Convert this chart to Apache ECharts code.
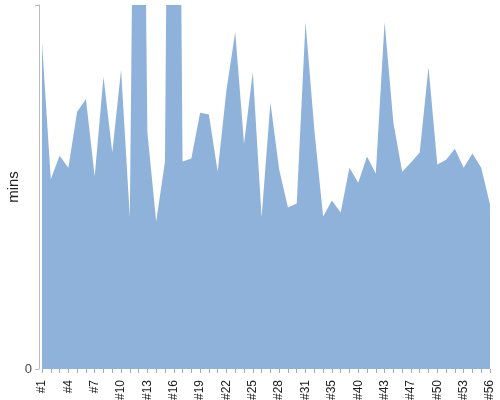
<!DOCTYPE html>
<html>
<head>
<meta charset="utf-8">
<script src="https://cdn.jsdelivr.net/npm/echarts@6/dist/echarts.min.js"></script>
<style>html,body{margin:0;padding:0;background:#fff}#c{width:500px;height:400px}</style>
</head>
<body>
<div id="c"></div>
<script>
var categories = ['#1','#2','#3','#4','#5','#6','#7','#8','#9','#10','#11','#12','#13','#14','#15','#16','#17','#18','#19','#20','#21','#22','#23','#24','#25','#26','#27','#28','#29','#30','#31','#32','#34','#35','#37','#38','#40','#41','#42','#43','#45','#46','#47','#48','#49','#50','#51','#52','#53','#54','#55','#56'];
var values = [89.6,52.1,58.6,55.3,70.7,74.2,52.9,80.3,59.5,82.2,41.6,290,64.9,40.5,57.0,370,57.0,57.8,70.4,69.9,54.2,76.7,92.6,61.9,81.6,41.6,73.2,54.8,44.4,45.5,95.3,65.8,41.9,46.3,43.0,55.3,51.2,58.4,53.7,95.3,67.7,54.2,56.7,59.5,83.0,56.2,57.5,60.5,55.3,59.2,55.3,45.2];
var yMin = 0, yMax = 100;
var chart = echarts.init(document.getElementById('c'), null, {renderer: 'canvas'});
chart.setOption({
  animation: false,
  textStyle: {fontFamily: 'Liberation Sans, Arial, sans-serif'},
  grid: {left: 42, right: 10, top: 5, bottom: 31, containLabel: false, outerBoundsMode: 'none'},
  xAxis: {
    type: 'category',
    data: categories,
    boundaryGap: false,
    offset: 4,
    axisLine: {show: false},
    axisTick: {show: true, interval: 0, length: 4, lineStyle: {color: '#aaa'}},
    axisLabel: {interval: 2, rotate: 90, fontSize: 12, color: '#222', margin: 7}
  },
  yAxis: {
    type: 'value',
    min: yMin, max: yMax, interval: 100,
    name: 'mins',
    nameLocation: 'middle',
    nameGap: 18,
    nameMoveOverlap: false,
    nameTextStyle: {fontSize: 15, color: '#222'},
    offset: 3,
    splitLine: {show: false},
    axisLine: {show: true, lineStyle: {color: '#bbb'}},
    axisTick: {show: true, length: 4, lineStyle: {color: '#bbb'}},
    axisLabel: {fontSize: 13, color: '#444', margin: 7, formatter: function (v) { return v === 0 ? '0' : ''; }}
  },
  series: [{
    type: 'line',
    data: values,
    symbol: 'none',
    clip: true,
    lineStyle: {width: 0},
    areaStyle: {color: '#8fb2db', opacity: 1}
  }]
});
</script>
</body>
</html>
